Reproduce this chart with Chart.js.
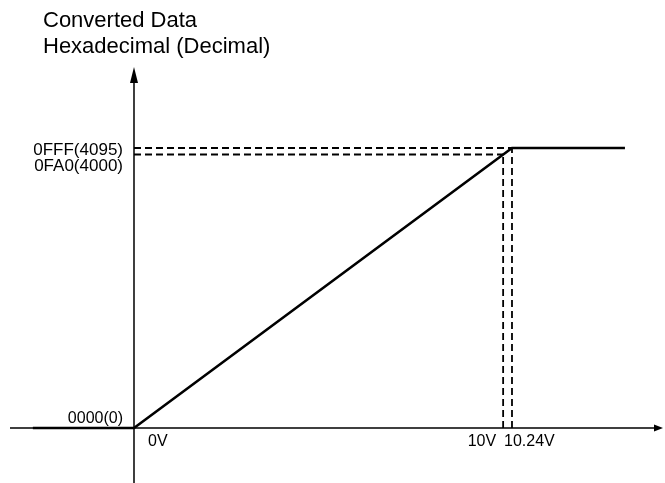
<!DOCTYPE html>
<html>
<head>
<meta charset="utf-8">
<script src="https://cdn.jsdelivr.net/npm/chart.js@4/dist/chart.umd.min.js"></script>
<style>
  html, body { margin: 0; padding: 0; background: #ffffff; }
  #wrap { width: 665px; height: 483px; }
</style>
</head>
<body>
<div id="wrap"><canvas id="c"></canvas></div>
<script>
// A/D conversion characteristic: input voltage (V) -> converted digital value
const inputVolts    = [-2.74, 0, 10.24, 13.3];
const convertedData = [0, 0, 4095, 4095];

// Reference points marked with dashed guides
const markVolts  = [10, 10.24];
const markCounts = [4000, 4095];

// Axis labels
const countLabels = ['0FA0(4000)', '0FFF(4095)'];
const zeroCountLabel = '0000(0)';
const voltLabels = ['10V', '10.24V'];
const zeroVoltLabel = '0V';
const titleLines = ['Converted Data', 'Hexadecimal (Decimal)'];

const FONT = '"Liberation Sans", Arial, Helvetica, sans-serif';

const curve = inputVolts.map((v, i) => ({ x: v, y: convertedData[i] }));

// Dashed guide lines from the axes to the marked points
const guides = [];
markVolts.forEach((v, i) => {
  guides.push([{ x: 0, y: markCounts[i] }, { x: v, y: markCounts[i] }]);
  guides.push([{ x: v, y: 0 }, { x: v, y: markCounts[i] }]);
});

const guideSets = guides.map(pts => ({
  data: pts,
  borderColor: '#000',
  borderWidth: 1.8,
  borderDash: [7, 4],
  pointRadius: 0,
  tension: 0,
  fill: false
}));

// Axes with arrowheads, crossing at (0V, 0)
const axesPlugin = {
  id: 'arrowAxes',
  beforeDatasetsDraw(chart) {
    const { ctx, scales: { x, y } } = chart;
    const x0 = x.getPixelForValue(0);
    const y0 = y.getPixelForValue(0);
    const xEnd = x.getPixelForValue(x.max) - 2;
    const xStart = x.getPixelForValue(x.min) + 10;
    const yTop = y.getPixelForValue(5280);
    const yBottom = y.getPixelForValue(y.min);
    ctx.save();
    ctx.strokeStyle = '#000';
    ctx.fillStyle = '#000';
    ctx.lineWidth = 1.5;
    ctx.beginPath();
    ctx.moveTo(xStart, y0);
    ctx.lineTo(xEnd - 6, y0);
    ctx.moveTo(x0, yBottom);
    ctx.lineTo(x0, yTop + 12);
    ctx.stroke();
    // horizontal arrowhead
    ctx.beginPath();
    ctx.moveTo(xEnd, y0);
    ctx.lineTo(xEnd - 9, y0 - 3.5);
    ctx.lineTo(xEnd - 9, y0 + 3.5);
    ctx.closePath();
    ctx.fill();
    // vertical arrowhead
    ctx.beginPath();
    ctx.moveTo(x0, yTop);
    ctx.lineTo(x0 - 4, yTop + 16);
    ctx.lineTo(x0 + 4, yTop + 16);
    ctx.closePath();
    ctx.fill();
    ctx.restore();
  },
  afterDatasetsDraw(chart) {
    const { ctx, scales: { x, y } } = chart;
    const x0 = x.getPixelForValue(0);
    const y0 = y.getPixelForValue(0);
    ctx.save();
    ctx.fillStyle = '#000';
    ctx.textBaseline = 'middle';

    // value labels on the vertical axis
    ctx.textAlign = 'right';
    ctx.font = '17px ' + FONT;
    ctx.fillText(countLabels[1], x0 - 11, y.getPixelForValue(markCounts[1]) + 2);
    ctx.fillText(countLabels[0], x0 - 11, y.getPixelForValue(markCounts[0]) + 12);
    ctx.font = '16px ' + FONT;
    ctx.fillText(zeroCountLabel, x0 - 11, y0 - 9);

    // voltage labels under the horizontal axis
    ctx.font = '16px ' + FONT;
    ctx.textAlign = 'left';
    ctx.fillText(zeroVoltLabel, x0 + 14, y0 + 14);
    ctx.textAlign = 'right';
    ctx.fillText(voltLabels[0], x.getPixelForValue(markVolts[0]) - 7, y0 + 14);
    ctx.textAlign = 'left';
    ctx.fillText(voltLabels[1], x.getPixelForValue(markVolts[1]) - 8, y0 + 14);

    // axis title
    ctx.font = '22px ' + FONT;
    ctx.textAlign = 'left';
    ctx.fillText(titleLines[0], 43, 21);
    ctx.fillText(titleLines[1], 43, 47);
    ctx.restore();
  }
};

new Chart(document.getElementById('c'), {
  type: 'line',
  data: {
    datasets: [
      {
        data: curve,
        borderColor: '#000',
        borderWidth: 2.6,
        pointRadius: 0,
        tension: 0,
        fill: false
      },
      ...guideSets
    ]
  },
  options: {
    responsive: true,
    maintainAspectRatio: false,
    animation: false,
    events: [],
    layout: { padding: 0 },
    plugins: {
      legend: { display: false },
      tooltip: { enabled: false },
      title: { display: false }
    },
    scales: {
      x: { type: 'linear', display: false, min: -3.63, max: 14.385 },
      y: { type: 'linear', display: false, min: -804.4, max: 6259.5 }
    }
  },
  plugins: [axesPlugin]
});
</script>
</body>
</html>
